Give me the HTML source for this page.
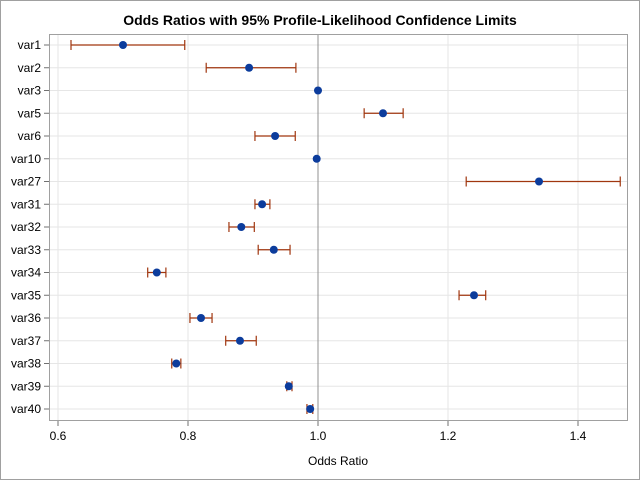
<!DOCTYPE html>
<html><head><meta charset="utf-8"><style>
body{margin:0;background:#fff;font-family:"Liberation Sans",sans-serif}
</style></head><body>
<svg width="640" height="480" xmlns="http://www.w3.org/2000/svg" font-family="Liberation Sans, sans-serif">
<rect x="0.5" y="0.5" width="639" height="479" fill="#fff" stroke="#a0a0a0"/>
<text x="320" y="25" text-anchor="middle" font-size="14" font-weight="bold" fill="#000">Odds Ratios with 95% Profile-Likelihood Confidence Limits</text>
<g id="grid"></g>
<g id="marks"></g>
<rect x="49.5" y="34.5" width="578" height="386" fill="none" stroke="#a0a0a0"/>
<g id="axes"></g>
<text x="338" y="465" text-anchor="middle" font-size="12" fill="#000">Odds Ratio</text>
</svg>
<script>
const categories=["var1","var2","var3","var5","var6","var10","var27","var31","var32","var33","var34","var35","var36","var37","var38","var39","var40"];
const estimates=[0.70,0.894,1.0,1.1,0.934,0.998,1.34,0.914,0.882,0.932,0.752,1.24,0.82,0.88,0.782,0.955,0.988];
const lower=[0.62,0.828,1.0,1.071,0.903,0.998,1.228,0.903,0.863,0.908,0.738,1.217,0.803,0.858,0.775,0.952,0.983];
const upper=[0.795,0.966,1.0,1.131,0.965,0.998,1.465,0.926,0.902,0.957,0.766,1.258,0.837,0.905,0.789,0.96,0.992];
const xTicks=[0.6,0.8,1.0,1.2,1.4];
const xTickLabels=["0.6","0.8","1.0","1.2","1.4"];
const NS="http://www.w3.org/2000/svg";
const xs=v=>58+(v-0.6)*650;
const ys=i=>45+i*22.75;
function mk(tag,attrs,parent){const e=document.createElementNS(NS,tag);for(const k in attrs)e.setAttribute(k,attrs[k]);document.getElementById(parent).appendChild(e);return e;}
xTicks.forEach((t,i)=>{
  let g=mk('line',{x1:xs(t),x2:xs(t),y1:35,y2:420,stroke:'#e6e6e6'},'grid');
  
  
  let tk=mk('line',{x1:xs(t),x2:xs(t),y1:421,y2:426,stroke:'#707070'},'axes');
  
  
  let tl=mk('text',{x:xs(t),y:440,'text-anchor':'middle','font-size':12,fill:'#000'},'axes');
  tl.textContent=xTickLabels[i];
  
  
});
categories.forEach((c,i)=>{
  const y=ys(i);
  let g=mk('line',{x1:50,x2:627,y1:y,y2:y,stroke:'#e6e6e6'},'grid');
  
  
  let tk=mk('line',{x1:44,x2:49,y1:y,y2:y,stroke:'#707070'},'axes');
  
  
  let tl=mk('text',{x:41,y:y+4,'text-anchor':'end','font-size':12,fill:'#000'},'axes');
  tl.textContent=c;
  
  
});
let ref=mk('line',{x1:xs(1),x2:xs(1),y1:35,y2:420,stroke:'#909090'},'grid');


categories.forEach((c,i)=>{
  const y=ys(i),a=xs(lower[i]),b=xs(upper[i]);
  if(b-a>0.5){
    let l=mk('path',{d:`M${a},${y}H${b}M${a},${y-5}V${y+5}M${b},${y-5}V${y+5}`,stroke:'#a0360f','stroke-width':1.2,fill:'none'},'marks');
    
    
  }
  let p=mk('circle',{cx:xs(estimates[i]),cy:y,r:4,fill:'#0c3c9c'},'marks');
  
  
});
</script>
</body></html>
